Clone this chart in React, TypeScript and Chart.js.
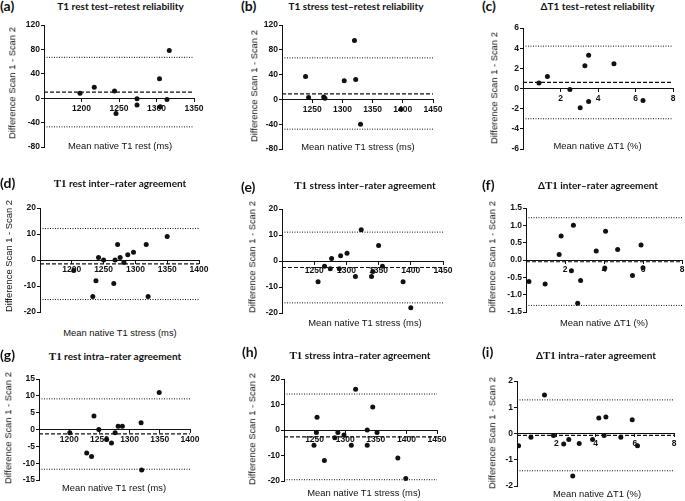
import React, { useEffect, useRef } from 'react';
import { Chart, registerables } from 'chart.js';

Chart.register(...registerables);

// ---------- DATA ----------
// (a) T1 rest test-retest reliability
const aMean = [1198, 1217, 1244, 1246, 1274, 1274, 1304, 1305, 1314, 1317];
const aDiff = [8, 18, 12, -25, -1, -11, 32, -14, -2, 78];
const aLimits = [10, 67, -47]; // bias, upper LoA, lower LoA

// (b) T1 stress test-retest reliability
const bMean = [1239, 1244, 1269, 1271, 1303, 1320, 1322, 1330, 1397];
const bDiff = [37, 3, 4, 2, 30, 95, 32, -40, -16];
const bLimits = [9, 67, -48];

// (c) ΔT1 test-retest reliability
const cMean = [0.85, 1.3, 2.5, 3.05, 3.3, 3.5, 3.5, 4.85, 6.4];
const cDiff = [0.55, 1.2, -0.1, -1.9, 2.25, 3.3, -1.3, 2.45, -1.2];
const cLimits = [0.6, 4.2, -3.0];

// (d) T1 rest inter-rater agreement
const dMean = [1203, 1233, 1238, 1242, 1250, 1266, 1268, 1272, 1276, 1282, 1288, 1297, 1317, 1320, 1350];
const dDiff = [-4, -14, -8, 1, 0, -9, 0, 6, 1, -1, 2, 3, 6, -14, 9];
const dLimits = [-1.5, 12.1, -15.2];

// (e) T1 stress inter-rater agreement
const eMean = [1256, 1266, 1275, 1277, 1289, 1291, 1301, 1314, 1323, 1339, 1341, 1350, 1356, 1388, 1400];
const eDiff = [-8, -2, -3, 1, -3, 2, 3, -6, 12, -6, -4, 6, -2, -8, -18];
const eLimits = [-2.5, 11.1, -16.1];

// (f) ΔT1 inter-rater agreement
const fMean = [0.15, 0.98, 1.7, 1.8, 2.33, 2.43, 2.65, 2.8, 3.6, 4.08, 4.04, 4.7, 5.46, 5.9, 6.0];
const fDiff = [-0.62, -0.69, 0.16, 0.69, -0.31, 1.0, -1.25, -0.59, 0.26, 0.83, -0.23, 0.3, -0.45, 0.43, -0.22];
const fLimits = [-0.05, 1.22, -1.31];

// (g) T1 rest intra-rater agreement
const gMean = [1201, 1229, 1237, 1241, 1249, 1262, 1270, 1276, 1281, 1288, 1319, 1320, 1349];
const gDiff = [-1, -7, -8, 4, 0, -3, -4, -1, 1, 1, 2, -12, 11];
const gLimits = [-1.3, 9.1, -11.8];

// (h) T1 stress intra-rater agreement
const hMean = [1249, 1254, 1253, 1266, 1283, 1288, 1298, 1310, 1317, 1336, 1336, 1345, 1352, 1386, 1399];
const hDiff = [-6, 5, -1, -12, -3, -1, -2, -6, 16, 0, -6, 9, -1, -11, -19];
const hLimits = [-2.7, 14.1, -19.5];

// (i) ΔT1 intra-rater agreement
const iMean = [0.08, 0.71, 1.4, 1.86, 2.38, 2.64, 2.84, 3.17, 3.85, 4.17, 4.44, 4.53, 5.29, 5.87, 6.14];
const iDiff = [-0.47, -0.14, 1.47, -0.08, -0.4, -0.23, -1.62, -0.38, -0.23, 0.59, -0.08, 0.63, -0.14, 0.52, -0.47];
const iLimits = [-0.07, 1.28, -1.42];

// Axis ranges: [xMin, xMax, xStep, yMin, yMax, yStep, yDecimals]
const aAxes = [1150, 1350, 50, -80, 120, 40, 0];
const bAxes = [1200, 1450, 50, -80, 120, 40, 0];
const cAxes = [0, 8, 2, -6, 6, 2, 0];
const dAxes = [1150, 1400, 50, -20, 20, 10, 0];
const eAxes = [1200, 1450, 50, -20, 20, 10, 0];
const fAxes = [0, 8, 2, -1.5, 1.5, 0.5, 1];
const gAxes = [1150, 1400, 50, -15, 15, 5, 0];
const hAxes = [1200, 1450, 50, -20, 20, 10, 0];
const iAxes = [0, 8, 2, -2, 2, 1, 0];

const letters = ['(a)', '(b)', '(c)', '(d)', '(e)', '(f)', '(g)', '(h)', '(i)'];
const titles = [
  'T1 rest test–retest reliability',
  'T1 stress test–retest reliability',
  'ΔT1 test–retest reliability',
  'T1 rest inter–rater agreement',
  'T1 stress inter–rater agreement',
  'ΔT1 inter–rater agreement',
  'T1 rest intra–rater agreement',
  'T1 stress intra–rater agreement',
  'ΔT1 intra–rater agreement',
];
const xTitles = [
  'Mean native T1 rest (ms)',
  'Mean native T1 stress (ms)',
  'Mean native ΔT1 (%)',
  'Mean native T1 stress (ms)',
  'Mean native T1 stress (ms)',
  'Mean native ΔT1 (%)',
  'Mean native T1 rest (ms)',
  'Mean native T1 stress (ms)',
  'Mean native ΔT1 (%)',
];
const yTitle = 'Difference Scan 1 - Scan 2';

const panelData = [
  { mean: aMean, diff: aDiff, limits: aLimits, axes: aAxes },
  { mean: bMean, diff: bDiff, limits: bLimits, axes: bAxes },
  { mean: cMean, diff: cDiff, limits: cLimits, axes: cAxes },
  { mean: dMean, diff: dDiff, limits: dLimits, axes: dAxes },
  { mean: eMean, diff: eDiff, limits: eLimits, axes: eAxes },
  { mean: fMean, diff: fDiff, limits: fLimits, axes: fAxes },
  { mean: gMean, diff: gDiff, limits: gLimits, axes: gAxes },
  { mean: hMean, diff: hDiff, limits: hLimits, axes: hAxes },
  { mean: iMean, diff: iDiff, limits: iLimits, axes: iAxes },
];

// ---------- LAYOUT ----------
// plot area rect [left, top, right, bottom]
const plotRects = [
  [44, 25, 194, 147],
  [282, 25, 433, 149],
  [523, 28, 673, 149],
  [40, 208, 199, 312],
  [282, 209, 443, 313],
  [526, 208, 682, 312],
  [39, 379, 190, 480],
  [284, 379, 437, 481],
  [517, 381, 674, 486],
];
const titlePos = [[120.5, 6], [356, 6], [597.5, 6], [120, 183], [365, 185], [598, 185], [115, 356], [360, 355], [596, 355]];
const letterPos = [[0, 6], [241, 6], [482, 6], [0, 183], [241, 187], [482, 185], [0, 355], [242, 352], [482, 352]];
const yTitlePos = [[12, 83], [254, 86], [494, 88], [9, 256], [252, 257], [492, 257], [8, 428], [252, 429], [492, 433]];
const xTitlePos = [[120, 146], [358, 147], [597.5, 146], [120, 333], [365, 323], [604, 323], [114, 488], [364, 493], [597, 494]];

const YW = 40;
const PT = 8;
const PR = 14;
const PB = 8;
const INK = '#111';
const tickFont = { family: '"Liberation Sans", Arial, sans-serif', size: 8.5, weight: 'bold' as const };

function Panel({ idx }: { idx: number }) {
  const ref = useRef<HTMLCanvasElement | null>(null);
  const d = panelData[idx];
  const [L, T, R, B] = plotRects[idx];
  const w = R - L + YW + PR;
  const h = B - T + PT + PB;

  useEffect(() => {
    if (!ref.current) return;
    const [xMin, xMax, xStep, yMin, yMax, yStep, yDec] = d.axes;
    const line = (v: number) => [{ x: xMin, y: v }, { x: xMax, y: v }];
    const chart = new Chart(ref.current, {
      type: 'scatter',
      data: {
        datasets: [
          {
            data: d.mean.map((x, i) => ({ x, y: d.diff[i] })),
            backgroundColor: INK,
            borderColor: INK,
            borderWidth: 0,
            pointRadius: 2.5,
            pointHoverRadius: 2.5,
          },
          {
            type: 'line',
            data: line(d.limits[0]),
            borderColor: INK,
            borderWidth: 1.2,
            borderDash: [4, 2],
            pointRadius: 0,
            fill: false,
          } as any,
          {
            type: 'line',
            data: line(d.limits[1]),
            borderColor: INK,
            borderWidth: 1,
            borderDash: [1, 1.5],
            pointRadius: 0,
            fill: false,
          } as any,
          {
            type: 'line',
            data: line(d.limits[2]),
            borderColor: INK,
            borderWidth: 1,
            borderDash: [1, 1.5],
            pointRadius: 0,
            fill: false,
          } as any,
        ],
      },
      options: {
        responsive: false,
        animation: false,
        devicePixelRatio: 1,
        layout: { padding: { left: 0, top: PT, right: PR, bottom: PB } },
        plugins: { legend: { display: false }, tooltip: { enabled: false }, title: { display: false } },
        scales: {
          x: {
            type: 'linear',
            min: xMin,
            max: xMax,
            position: { y: 0 } as any,
            ticks: {
              stepSize: xStep,
              autoSkip: false,
              maxRotation: 0,
              padding: 2,
              color: INK,
              font: tickFont,
              callback: (v: any) => (Number(v) === xMin ? '' : String(v)),
            },
            grid: { display: true, drawOnChartArea: false, drawTicks: true, tickLength: 3, color: INK },
            border: { display: true, color: INK, width: 1 },
          },
          y: {
            type: 'linear',
            min: yMin,
            max: yMax,
            ticks: {
              stepSize: yStep,
              autoSkip: false,
              padding: 1,
              color: INK,
              font: tickFont,
              callback: (v: any) => (yDec ? Number(v).toFixed(yDec) : String(v)),
            },
            grid: { display: true, drawOnChartArea: false, drawTicks: true, tickLength: 3, color: INK },
            border: { display: true, color: INK, width: 1 },
            afterFit: (s: any) => {
              s.width = YW;
            },
          },
        },
      },
    } as any);
    return () => chart.destroy();
  }, [idx]);

  const serifT1 = idx >= 3;
  const renderTitle = (t: string) => {
    if (!serifT1) return t;
    const parts = t.split('T1');
    return (
      <>
        {parts[0]}
        <span style={{ fontFamily: '"Liberation Serif", "Times New Roman", serif', fontWeight: 'bold', fontSize: '11px' }}>T1</span>
        {parts[1]}
      </>
    );
  };

  const center: React.CSSProperties = {
    position: 'absolute',
    transform: 'translate(-50%, -50%)',
    whiteSpace: 'nowrap',
    lineHeight: 1,
    color: INK,
  };

  return (
    <>
      <canvas
        ref={ref}
        width={w}
        height={h}
        style={{ position: 'absolute', left: L - YW, top: T - PT, width: w, height: h }}
      />
      <div
        style={{
          position: 'absolute',
          left: letterPos[idx][0],
          top: letterPos[idx][1],
          transform: 'translateY(-50%)',
          fontFamily: 'Lato, "Open Sans", sans-serif',
          fontWeight: 'bold',
          fontSize: '14px',
          lineHeight: 1,
          color: INK,
        }}
      >
        {letters[idx]}
      </div>
      <div
        style={{
          ...center,
          left: titlePos[idx][0],
          top: titlePos[idx][1],
          fontFamily: 'Lato, "Open Sans", sans-serif',
          fontWeight: 'bold',
          fontSize: '10px',
        }}
      >
        {renderTitle(titles[idx])}
      </div>
      <div
        style={{
          ...center,
          left: yTitlePos[idx][0],
          top: yTitlePos[idx][1],
          transform: 'translate(-50%, -50%) rotate(-90deg)',
          fontFamily: '"Liberation Sans", Arial, sans-serif',
          fontSize: '9.4px',
        }}
      >
        {yTitle}
      </div>
      <div
        style={{
          ...center,
          left: xTitlePos[idx][0],
          top: xTitlePos[idx][1],
          fontFamily: '"Liberation Sans", Arial, sans-serif',
          fontSize: '9.4px',
        }}
      >
        {xTitles[idx]}
      </div>
    </>
  );
}

export default function App() {
  return (
    <div
      style={{
        position: 'fixed',
        left: 0,
        top: 0,
        width: 685,
        height: 501,
        overflow: 'hidden',
        background: '#fff',
      }}
    >
      {panelData.map((_, i) => (
        <Panel key={i} idx={i} />
      ))}
    </div>
  );
}
